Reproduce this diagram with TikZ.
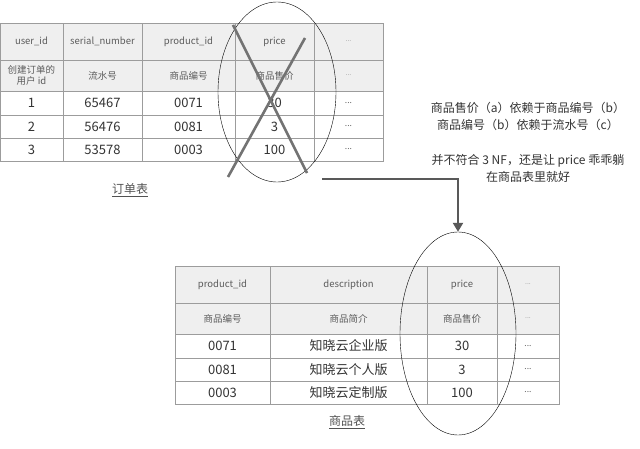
\documentclass[tikz,border=0pt]{standalone}
\usepackage{fontspec}
\setmainfont{Noto Sans CJK SC}
\usepackage{tikz}
\usetikzlibrary{shapes.geometric,arrows.meta}
\definecolor{gridgray}{HTML}{9C9C9C}
\definecolor{headfill}{HTML}{EFEFEF}
\definecolor{inkgray}{HTML}{333333}
\newcommand{\celldots}{{\color{inkgray!55}\fontsize{7}{8}\selectfont ...}}
\newcommand{\rowdots}{{\color{inkgray!75}\fontsize{8.5}{9}\selectfont ...}}
\tikzset{
    head-cell/.style = {draw=gridgray, fill=headfill, thin, rectangle, inner sep=0pt, align=center, text=inkgray!80, font=\fontsize{9.5}{11}\selectfont},
    data-cell/.style = {draw=gridgray, fill=white, thin, rectangle, inner sep=0pt, align=center, text=inkgray, font=\fontsize{13}{15}\selectfont},
    table-title/.style = {text=inkgray!85, font=\fontsize{12}{13}\selectfont, inner sep=1pt},
    note-text/.style = {text=inkgray, align=center, font=\fontsize{12}{17}\selectfont},
    price-ring/.style = {draw=black, thin, ellipse, inner sep=0pt},
    cross-line/.style = {draw=black!55, line width=2.6pt},
}

\begin{document}
\begin{tikzpicture}[x=1pt, y=-1pt]
\useasboundingbox (0,0) rectangle (640,449);
% order table
\foreach \cx/\w/\txt [count=\i] in {31.5/63/user\_id, 102.5/79/serial\_number, 188.5/93/product\_id, 274.5/79/price, 348.5/69/\celldots}
    \node[head-cell, minimum width=\w, minimum height=37] (order-1-\i) at (\cx,41.5) {\txt};
\foreach \cx/\w/\txt [count=\i] in {31.5/63/创建订单的\\用户 id, 102.5/79/流水号, 188.5/93/商品编号, 274.5/79/商品售价, 348.5/69/\celldots}
    \node[head-cell, minimum width=\w, minimum height=31] (order-2-\i) at (\cx,75.5) {\txt};
\foreach \yc/\h/\a/\b/\c/\d [count=\r from 3] in {103/24/1/65467/0071/30, 126.5/23/2/56476/0081/3, 149.5/23/3/53578/0003/100}{
    \node[data-cell, minimum width=63, minimum height=\h] (order-\r-1) at (31.5,\yc) {\a};
    \node[data-cell, minimum width=79, minimum height=\h] (order-\r-2) at (102.5,\yc) {\b};
    \node[data-cell, minimum width=93, minimum height=\h] (order-\r-3) at (188.5,\yc) {\c};
    \node[data-cell, minimum width=79, minimum height=\h] (order-\r-4) at (274.5,\yc) {\d};
    \node[data-cell, minimum width=69, minimum height=\h] (order-\r-5) at (348.5,\yc) {\rowdots};
}
\node[table-title] (order-title) at (130,190) {\underline{订单表}};

% product table
\foreach \cx/\w/\txt [count=\i] in {222.5/95/product\_id, 348.5/157/description, 462/70/price, 528/62/\celldots}
    \node[head-cell, minimum width=\w, minimum height=37] (product-1-\i) at (\cx,284.5) {\txt};
\foreach \cx/\w/\txt [count=\i] in {222.5/95/商品编号, 348.5/157/商品简介, 462/70/商品售价, 528/62/\celldots}
    \node[head-cell, minimum width=\w, minimum height=31] (product-2-\i) at (\cx,318.5) {\txt};
\foreach \yc/\h/\a/\b/\c [count=\r from 3] in {346/24/0071/知晓云企业版/30, 369.5/23/0081/知晓云个人版/3, 392.5/23/0003/知晓云定制版/100}{
    \node[data-cell, minimum width=95, minimum height=\h] (product-\r-1) at (222.5,\yc) {\a};
    \node[data-cell, minimum width=157, minimum height=\h] (product-\r-2) at (348.5,\yc) {\b};
    \node[data-cell, minimum width=70, minimum height=\h] (product-\r-3) at (462,\yc) {\c};
    \node[data-cell, minimum width=62, minimum height=\h] (product-\r-4) at (528,\yc) {\rowdots};
}
\node[table-title] (product-title) at (347,422) {\underline{商品表}};

% rings and cross
\node[price-ring, minimum width=118, minimum height=180] (order-ring) at (277,92) {};
\node[price-ring, minimum width=116, minimum height=203] (product-ring) at (458,333.5) {};
\coordinate (cross-a1) at (233,25);
\coordinate (cross-a2) at (307,173);
\coordinate (cross-b1) at (305,38);
\coordinate (cross-b2) at (228,177);
\draw[cross-line] (cross-a1) -- (cross-a2);
\draw[cross-line] (cross-b1) -- (cross-b2);

% note and arrow
\node[note-text] (note-dep) at (528,116) {商品售价（a）依赖于商品编号（b）\\商品编号（b）依赖于流水号（c）};
\node[note-text] (note-nf) at (528,168) {并不符合 3 NF，还是让 price 乖乖躺\\在商品表里就好};
\coordinate (arrow-start) at (322,179);
\draw[black!65, line width=2.4pt, -{Triangle[length=9pt, width=10pt]}] (arrow-start) -| (product-ring.north);
\end{tikzpicture}
\end{document}
